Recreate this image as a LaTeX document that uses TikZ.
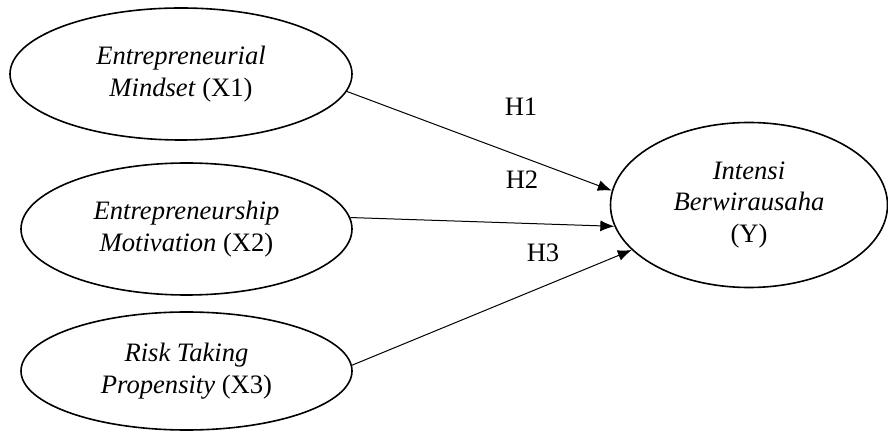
\documentclass[tikz,border=0pt]{standalone}
\usepackage{fontspec}
\setmainfont{Liberation Serif}
\usetikzlibrary{shapes.geometric,arrows.meta}

\begin{document}
\begin{tikzpicture}[x=0.5pt,y=-0.5pt,
    var/.style={draw,ellipse,line width=0.8pt,inner sep=0pt,align=center,
        font=\fontsize{13.3}{15.8}\selectfont},
    hyp/.style={font=\fontsize{13.3}{15.8}\selectfont},
    >={Latex[length=7pt,width=5.5pt]}]
    \useasboundingbox (0,0) rectangle (888,432);
    % Variables
    \node[var,minimum width=171pt,minimum height=66pt] (x1) at (181,74)
        {\textit{Entrepreneurial}\\\textit{Mindset} (X1)};
    \node[var,minimum width=165.5pt,minimum height=66pt] (x2) at (186.5,229)
        {\textit{Entrepreneurship}\\\textit{Motivation} (X2)};
    \node[var,minimum width=165.5pt,minimum height=59pt] (x3) at (186.5,371)
        {\textit{Risk Taking}\\\textit{Propensity} (X3)};
    \node[var,minimum width=138.5pt,minimum height=82.5pt] (y) at (749,205)
        {\textit{Intensi}\\\textit{Berwirausaha}\\(Y)};
    % Hypotheses
    \draw[->,line width=0.5pt] (x1.-6) -- (y.174);
    \draw[->,line width=0.5pt] (x2.4) -- (y.189);
    \draw[->,line width=0.5pt] (x3.2) -- (y.201);
    \node[hyp] (h1) at (521,107) {H1};
    \node[hyp] (h2) at (522,180) {H2};
    \node[hyp] (h3) at (543,253) {H3};
\end{tikzpicture}
\end{document}
